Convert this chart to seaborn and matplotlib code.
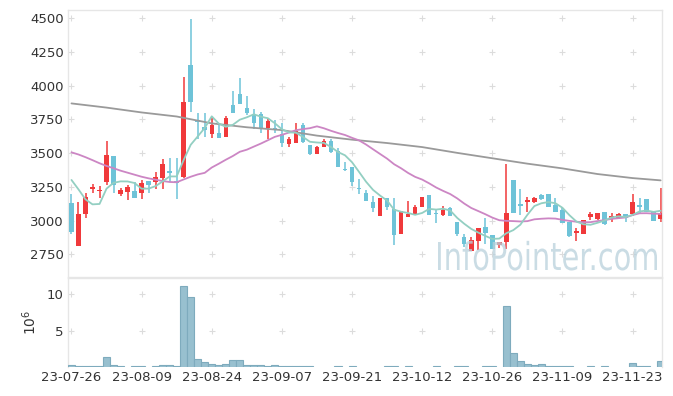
import numpy as np
import pandas as pd
import matplotlib
matplotlib.use('Agg')
import matplotlib.pyplot as plt
import seaborn as sns
from matplotlib.textpath import TextPath
from matplotlib.patches import PathPatch
from matplotlib.font_manager import FontProperties
from matplotlib.transforms import Affine2D

# daily candles, 23-07-26 .. 23-11-29 (85 trading days)
opens = [3128, 2813, 3048, 3236, 3216, 3288, 3479, 3199, 3214, 3219,
         3207, 3293, 3288, 3318, 3365, 3291, 3320, 4154, 3743, 3691,
         3639, 3649, 3622, 3857, 3938, 3835, 3783, 3790, 3689, 3684,
         3639, 3570, 3577, 3708, 3560, 3496, 3548, 3590, 3518, 3382,
         3395, 3241, 3202, 3137, 3036, 3165, 3083, 2897, 3028, 3046,
         3103, 3189, 3051, 3041, 3090, 2989, 2875, 2776, 2850, 2949,
         2892, 2818, 2841, 3300, 3122, 3135, 3135, 3189, 3197, 3118,
         3078, 2992, 2907, 2897, 3024, 3009, 3063, 3021, 3016, 3048,
         3046, 3112, 3160, 3066, 3009]
highs = [3197, 3135, 3207, 3271, 3256, 3587, 3480, 3239, 3263, 3288,
         3301, 3293, 3357, 3456, 3461, 3466, 4067, 4492, 3795, 3800,
         3770, 3721, 3775, 3963, 4060, 3924, 3825, 3802, 3753, 3746,
         3721, 3617, 3721, 3721, 3560, 3555, 3602, 3602, 3535, 3432,
         3395, 3310, 3226, 3182, 3170, 3165, 3164, 3071, 3145, 3115,
         3172, 3189, 3083, 3108, 3103, 2989, 2897, 2875, 2942, 3021,
         2892, 2838, 3419, 3300, 3231, 3177, 3172, 3197, 3197, 3167,
         3098, 2992, 2942, 3004, 3063, 3058, 3063, 3058, 3058, 3048,
         3197, 3170, 3160, 3066, 3239]
lows = [2900, 2810, 3016, 3202, 3165, 3263, 3202, 3184, 3152, 3170,
        3157, 3202, 3231, 3234, 3288, 3160, 3315, 3802, 3602, 3622,
        3615, 3610, 3622, 3800, 3862, 3780, 3679, 3647, 3602, 3647,
        3548, 3548, 3577, 3572, 3486, 3491, 3543, 3503, 3399, 3367,
        3256, 3194, 3147, 3061, 3036, 3078, 2818, 2897, 3028, 3046,
        3103, 3043, 2979, 3033, 3033, 2885, 2806, 2776, 2781, 2823,
        2786, 2793, 2786, 3058, 3041, 3066, 3127, 3152, 3098, 3066,
        2984, 2875, 2845, 2897, 3004, 3004, 2967, 2987, 3009, 2987,
        3036, 3048, 3066, 2999, 2992]
closes = [2917, 3048, 3172, 3249, 3229, 3486, 3263, 3226, 3246, 3170,
          3276, 3266, 3320, 3419, 3355, 3276, 3879, 3882, 3728, 3671,
          3706, 3610, 3763, 3800, 3862, 3795, 3721, 3676, 3741, 3676,
          3572, 3605, 3664, 3585, 3496, 3545, 3590, 3511, 3399, 3375,
          3288, 3231, 3147, 3095, 3165, 3103, 2892, 3071, 3048, 3098,
          3172, 3043, 3046, 3078, 3033, 2897, 2826, 2855, 2942, 2910,
          2786, 2838, 3053, 3058, 3110, 3152, 3164, 3157, 3103, 3066,
          2984, 2888, 2920, 3004, 3046, 3058, 2972, 3034, 3048, 3016,
          3137, 3103, 3066, 2999, 3058]
# volume in millions of shares
volumes = [0.49, 0.36, 0.36, 0.36, 0.36, 1.56, 0.49, 0.36, 0.15, 0.36,
           0.36, 0.15, 0.36, 0.49, 0.49, 0.36, 11.03, 9.55, 1.25, 0.85,
           0.63, 0.49, 0.63, 1.12, 1.12, 0.49, 0.49, 0.49, 0.36, 0.49,
           0.36, 0.36, 0.36, 0.36, 0.36, 0.15, 0.15, 0.15, 0.36, 0.15,
           0.36, 0.15, 0.15, 0.15, 0.15, 0.36, 0.36, 0.15, 0.36, 0.15,
           0.15, 0.15, 0.36, 0.15, 0.15, 0.36, 0.36, 0.15, 0.15, 0.36,
           0.36, 0.15, 8.39, 2.05, 0.98, 0.58, 0.49, 0.58, 0.36, 0.36,
           0.36, 0.36, 0.15, 0.15, 0.36, 0.15, 0.36, 0.15, 0.15, 0.15,
           0.71, 0.36, 0.36, 0.15, 1.03]

# moving averages: first values depend on earlier days
ma5_head = [3301, 3231, 3157, 3120]
ma20_head = [3506, 3490, 3470, 3448, 3425, 3405, 3388, 3370, 3355, 3340,
             3325, 3313, 3303, 3293, 3286, 3284, 3305, 3325, 3342]
ma120_idx = [0, 5, 10, 15, 20, 25, 30, 35, 40, 45, 50, 55, 60, 65, 70, 75, 80, 84]
ma120_val = [3869, 3838, 3802, 3772, 3721, 3692, 3671, 3630, 3600, 3575,
             3545, 3502, 3462, 3422, 3387, 3345, 3315, 3298]

tick_pos = [0, 10, 20, 30, 40, 50, 60, 70, 80]
tick_labels = ['23-07-26', '23-08-09', '23-08-24', '23-09-07', '23-09-21',
               '23-10-12', '23-10-26', '23-11-09', '23-11-23']
price_ticks = [2750, 3000, 3250, 3500, 3750, 4000, 4250, 4500]
vol_ticks = [5, 10]

RED = '#f0393b'
BLUE = '#6ec3d8'
GRID = '#dcdcdc'
SPINE = '#e6e6e6'
TEXT = '#333333'

sns.set_style('white')
plt.rcParams['font.family'] = ['DejaVu Sans']

df = pd.DataFrame({'open': opens, 'high': highs, 'low': lows,
                   'close': closes, 'volume': volumes})
df['x'] = np.arange(len(df))
ma5 = df['close'].rolling(5).mean()
ma5.iloc[:len(ma5_head)] = ma5_head
ma20 = df['close'].rolling(20).mean()
ma20.iloc[:len(ma20_head)] = ma20_head
df['ma5'] = ma5
df['ma20'] = ma20

fig = plt.figure(figsize=(6.73, 3.96), dpi=100)
ax = fig.add_axes([0.101, 0.3005, 0.8827, 0.6742])
axv = fig.add_axes([0.101, 0.0732, 0.8827, 0.2248])

up = (df['close'] >= df['open']).to_numpy()
colors = np.where(up, RED, BLUE)
body_lo = np.minimum(df['open'], df['close'])
body_h = np.maximum((df['close'] - df['open']).abs(), 8)
ax.vlines(df['x'], df['low'], df['high'], colors=colors, linewidth=1.1, zorder=2)
ax.bar(df['x'], body_h, bottom=body_lo, width=0.64, color=colors,
       edgecolor='none', linewidth=0, zorder=3)

sns.lineplot(x=ma120_idx, y=ma120_val, ax=ax, color='#9a9a9a', linewidth=1.3, zorder=4)
sns.lineplot(data=df, x='x', y='ma20', ax=ax, color='#cc86c4', linewidth=1.3, zorder=4)
sns.lineplot(data=df, x='x', y='ma5', ax=ax, color='#93cfc2', linewidth=1.3, zorder=4)

axv.bar(df['x'], df['volume'], width=1.0, color='#98c0cf', edgecolor='#7eabbd',
        linewidth=0.8, zorder=3)

# '+' marks at grid crossings
for a, yt in ((ax, price_ticks), (axv, vol_ticks)):
    gx, gy = np.meshgrid(tick_pos, yt)
    a.plot(gx.ravel(), gy.ravel(), linestyle='none', marker='+', markersize=5,
           markeredgewidth=0.8, color=GRID, zorder=1)

# watermark, squeezed horizontally like the original's narrow face
wm = 'InfoPointer.com'
prop = FontProperties(family='DejaVu Sans')
tp = TextPath((0, 0), wm, size=1, prop=prop)
cap = TextPath((0, 0), 'I', size=1, prop=prop).get_extents().height
ext = tp.get_extents()
sx = 219 / ext.width
sy = 28 / cap
# pixel box: left 438, baseline 270 (from the top of a 396 px figure)
tr = Affine2D().translate(-ext.x0, 0).scale(sx, sy).translate(438, 396 - 270)
wm_patch = PathPatch(tr.transform_path(tp), facecolor='#b9d1dc', edgecolor='none',
                     alpha=0.75, transform=None, zorder=5)
wm_patch.set_transform(matplotlib.transforms.IdentityTransform())
fig.add_artist(wm_patch)

ax.set_xlim(-0.5, 84.2)
ax.set_ylim(2581, 4562)
axv.set_xlim(-0.5, 84.2)
axv.set_ylim(0.22, 12.14)

ax.set_yticks(price_ticks)
ax.set_xticks(tick_pos)
ax.set_xticklabels([])
axv.set_yticks(vol_ticks)
axv.set_xticks(tick_pos)
axv.set_xticklabels(tick_labels)
axv.set_ylabel('$10^6$', color=TEXT, fontsize=10, labelpad=6)

for a in (ax, axv):
    a.set_xlabel('')
    if a is ax:
        a.set_ylabel('')
    a.tick_params(length=0, labelsize=9.5, colors=TEXT, pad=3)
    for s in a.spines.values():
        s.set_color(SPINE)
        s.set_linewidth(1)
    a.spines['bottom'].set_visible(a is ax)

fig.savefig('out.png', dpi=100)
